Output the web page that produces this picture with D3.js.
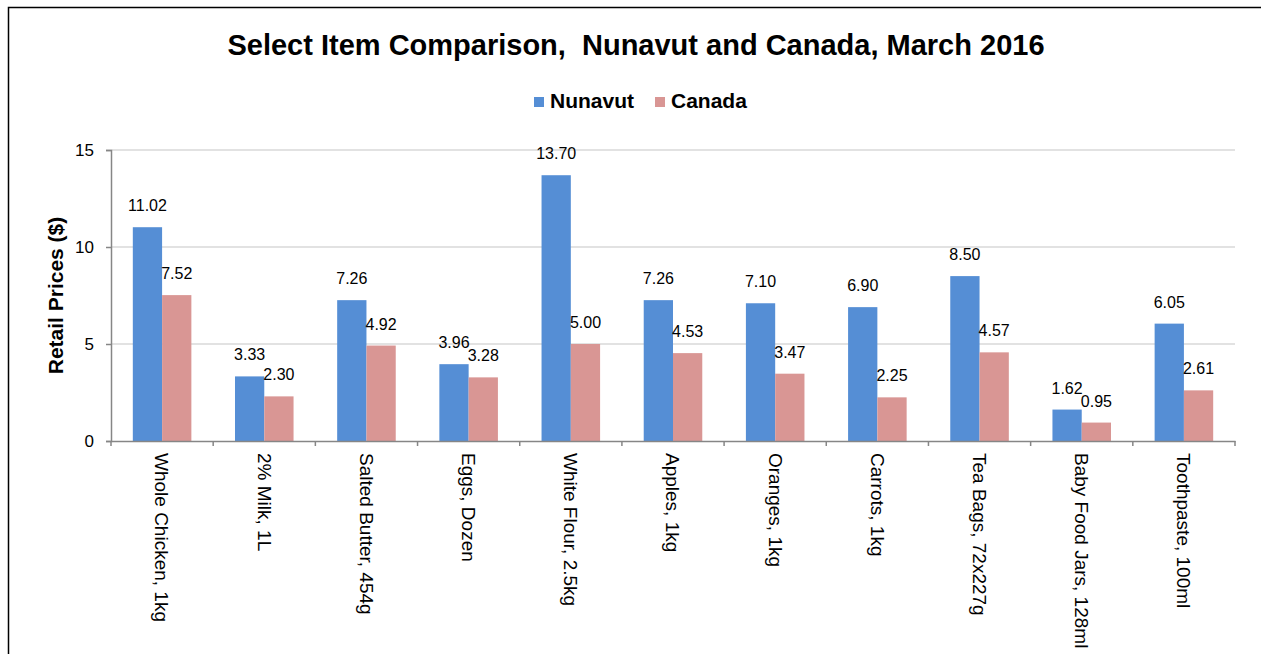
<!DOCTYPE html>
<html>
<head>
<meta charset="utf-8">
<script src="https://cdn.jsdelivr.net/npm/d3@7"></script>
<style>
  body { margin: 0; background: #fff; }
  svg { font-family: "Liberation Sans", Arial, sans-serif; }
</style>
</head>
<body>
<svg width="1261" height="654"></svg>
<script>
const items = ["Whole Chicken, 1kg", "2% Milk, 1L", "Salted Butter, 454g", "Eggs, Dozen",
  "White Flour, 2.5kg", "Apples, 1kg", "Oranges, 1kg", "Carrots, 1kg",
  "Tea Bags, 72x227g", "Baby Food Jars, 128ml", "Toothpaste, 100ml"];
const nunavut = [11.02, 3.33, 7.26, 3.96, 13.70, 7.26, 7.10, 6.90, 8.50, 1.62, 6.05];
const canada = [7.52, 2.30, 4.92, 3.28, 5.00, 4.53, 3.47, 2.25, 4.57, 0.95, 2.61];
const seriesNames = ["Nunavut", "Canada"];
const yTicks = [0, 5, 10, 15];

const colors = ["#558ed5", "#d99694"];

const svg = d3.select("svg");

// frame
svg.append("rect")
   .attr("x", 8.5).attr("y", 7.5)
   .attr("width", 1300).attr("height", 700)
   .attr("fill", "none").attr("stroke", "#000").attr("stroke-width", 1.5);

const plotLeft = 111, plotRight = 1235, plotTop = 150, plotBottom = 441;

const x = d3.scaleBand().domain(items).range([plotLeft, plotRight]);
const inner = d3.scaleBand().domain(seriesNames).range([0, x.bandwidth()]).paddingOuter(0.745);
const y = d3.scaleLinear().domain([0, 15]).range([plotBottom, plotTop]);

// gridlines
svg.append("g")
   .selectAll("line")
   .data(yTicks.filter(d => d > 0))
   .enter()
   .append("line")
   .attr("x1", plotLeft).attr("x2", plotRight)
   .attr("y1", d => y(d)).attr("y2", d => y(d))
   .attr("stroke", "#d9d9d9").attr("stroke-width", 1.5);

// bars
const data = items.map((c, i) => ({ c, vals: [nunavut[i], canada[i]] }));
const groups = svg.append("g").selectAll("g")
   .data(data)
   .enter()
   .append("g")
   .attr("transform", d => `translate(${x(d.c)},0)`);

groups.selectAll("rect")
   .data(d => d.vals.map((v, i) => ({ v, s: seriesNames[i], i })))
   .enter()
   .append("rect")
   .attr("x", d => inner(d.s))
   .attr("y", d => y(d.v))
   .attr("width", inner.bandwidth())
   .attr("height", d => plotBottom - y(d.v))
   .attr("fill", d => colors[d.i]);

groups.selectAll("text")
   .data(d => d.vals.map((v, i) => ({ v, s: seriesNames[i], i })))
   .enter()
   .append("text")
   .attr("x", d => inner(d.s) + inner.bandwidth() / 2)
   .attr("y", d => y(d.v) - 16)
   .attr("text-anchor", "middle")
   .attr("font-size", 16)
   .attr("fill", "#000")
   .text(d => d.v.toFixed(2));

// y axis
const yAxis = d3.axisLeft(y).tickValues(yTicks).tickSize(5).tickPadding(12).tickFormat(d3.format("d"));
const yg = svg.append("g").attr("transform", `translate(${plotLeft},0)`).call(yAxis);
yg.select(".domain").attr("stroke", "#868686").attr("stroke-width", 1.5);
yg.selectAll(".tick line").attr("stroke", "#868686").attr("stroke-width", 1.5);
yg.selectAll(".tick text").attr("font-size", 17).attr("fill", "#000").attr("font-family", "Liberation Sans, Arial, sans-serif");

// x axis
const xAxis = d3.axisBottom(x).tickSize(0).tickPadding(0);
const xg = svg.append("g").attr("transform", `translate(0,${plotBottom})`).call(xAxis);
xg.select(".domain").attr("stroke", "#868686").attr("stroke-width", 1.5);
xg.selectAll(".tick line").remove();
// boundary ticks between categories
xg.selectAll(".sep")
  .data(d3.range(items.length + 1))
  .enter()
  .append("line")
  .attr("x1", i => plotLeft + i * x.bandwidth())
  .attr("x2", i => plotLeft + i * x.bandwidth())
  .attr("y1", 0).attr("y2", 5)
  .attr("stroke", "#868686").attr("stroke-width", 1.5);
xg.selectAll(".tick text")
  .attr("font-size", 19)
  .attr("fill", "#000")
  .attr("font-family", "Liberation Sans, Arial, sans-serif")
  .attr("text-anchor", "start")
  .attr("dy", "0.35em")
  .attr("transform", "translate(0,12) rotate(90)");

// y title
svg.append("text")
   .attr("transform", `translate(63,${(plotTop + plotBottom) / 2}) rotate(-90)`)
   .attr("text-anchor", "middle")
   .attr("font-size", 21)
   .attr("font-weight", "bold")
   .text("Retail Prices ($)");

// title
svg.append("text")
   .attr("x", 636).attr("y", 55)
   .attr("text-anchor", "middle")
   .attr("font-size", 29)
   .attr("font-weight", "bold")
   .style("white-space", "pre")
   .text("Select Item Comparison,  Nunavut and Canada, March 2016");

// legend
const legendX = [534, 655];
const legend = svg.append("g").selectAll("g")
   .data(seriesNames)
   .enter()
   .append("g")
   .attr("transform", (d, i) => `translate(${legendX[i]},97)`);
legend.append("rect").attr("width", 10).attr("height", 10).attr("fill", (d, i) => colors[i]);
legend.append("text")
   .attr("x", 16).attr("y", 11)
   .attr("font-size", 21)
   .attr("font-weight", "bold")
   .text(d => d);
</script>
</body>
</html>
